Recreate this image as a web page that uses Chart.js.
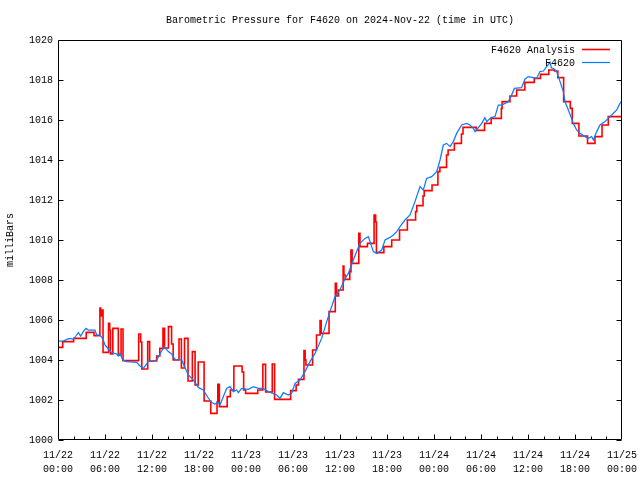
<!DOCTYPE html>
<html>
<head>
<meta charset="utf-8">
<script src="https://cdn.jsdelivr.net/npm/chart.js@4.4.1/dist/chart.umd.min.js"></script>
<style>
  html, body { margin: 0; padding: 0; background: #fff; }
  canvas { display: block; }
</style>
</head>
<body>
<canvas id="baro" width="640" height="480"></canvas>
<script>
// hours since 2024-11-22 00:00 UTC, pressure in mbar
const TITLE = 'Barometric Pressure for F4620 on 2024-Nov-22 (time in UTC)';
const Y_LABEL = 'milliBars';
const SERIES_NAMES = ['F4620 Analysis', 'F4620'];
const X_TICKS = [0, 6, 12, 18, 24, 30, 36, 42, 48, 54, 60, 66, 72];
const Y_TICKS = [1000, 1002, 1004, 1006, 1008, 1010, 1012, 1014, 1016, 1018, 1020];

// analysis: value holds until next change (step line)
const ANALYSIS = [
  [0, 1004.63], [0.6, 1004.92], [2.0, 1005.08], [3.6, 1005.38], [4.6, 1005.22],
  [5.35, 1006.6], [5.45, 1006.2], [5.55, 1006.5], [5.75, 1004.38], [6.45, 1005.83],
  [6.6, 1005.5], [6.7, 1004.3], [7.0, 1005.58], [7.7, 1004.25], [8.05, 1005.55],
  [8.3, 1003.97], [10.3, 1005.3], [10.55, 1004.9], [10.7, 1003.55], [11.45, 1004.92],
  [11.7, 1003.95], [12.6, 1004.2], [13.0, 1004.58], [13.4, 1005.58], [13.6, 1004.6],
  [14.1, 1005.67], [14.5, 1004.8], [14.7, 1004.0], [15.45, 1005.05], [15.75, 1003.6],
  [16.15, 1005.08], [16.6, 1002.95], [17.15, 1004.42], [17.5, 1002.75], [17.9, 1003.9],
  [18.65, 1001.95], [19.5, 1001.33], [20.3, 1001.9], [20.4, 1002.78], [20.6, 1001.67],
  [21.6, 1002.17], [22.0, 1002.5], [22.45, 1003.7], [23.5, 1003.4], [23.7, 1002.5],
  [23.95, 1002.33], [25.5, 1002.5], [26.15, 1003.78], [26.5, 1002.4], [27.35, 1003.8],
  [27.65, 1002.03], [29.7, 1002.47], [30.4, 1002.75], [30.7, 1003.03], [31.4, 1004.47],
  [31.55, 1004.0], [31.65, 1003.75], [32.5, 1004.5], [33.0, 1005.25], [33.45, 1005.97],
  [33.6, 1005.33], [34.6, 1006.42], [35.4, 1007.83], [35.55, 1007.2], [35.8, 1007.5],
  [36.4, 1008.7], [36.5, 1008.25], [36.65, 1008.03], [37.25, 1008.42], [37.4, 1009.5],
  [37.55, 1008.83], [38.4, 1010.33], [38.55, 1009.67], [39.5, 1009.83], [40.35, 1011.25],
  [40.55, 1010.9], [40.65, 1009.37], [41.6, 1009.67], [42.6, 1010.0], [43.6, 1010.5],
  [44.6, 1011.0], [45.65, 1011.42], [45.8, 1011.72], [46.6, 1012.2], [46.75, 1012.47],
  [47.75, 1012.75], [48.5, 1013.42], [48.75, 1013.63], [49.6, 1014.25], [49.8, 1014.5],
  [50.6, 1014.83], [51.5, 1015.3], [51.7, 1015.63], [53.4, 1015.48], [54.45, 1015.83],
  [55.3, 1016.08], [56.6, 1016.58], [56.7, 1016.92], [57.7, 1017.2], [58.55, 1017.5],
  [59.6, 1017.88], [60.8, 1018.08], [61.6, 1018.28], [62.65, 1018.5], [63.4, 1018.45],
  [63.8, 1018.12], [64.55, 1016.92], [65.4, 1016.58], [65.65, 1015.83], [66.5, 1015.2],
  [67.6, 1014.83], [68.55, 1015.17], [69.45, 1015.75], [70.25, 1016.17], [71.9, 1016.17]
];

// station observations
const OBS = [
  [0, 1004.9], [0.13, 1004.95], [0.7, 1004.95], [1.11, 1005.03], [1.53, 1005.08],
  [1.96, 1005.03], [2.38, 1005.25], [2.6, 1005.37], [2.89, 1005.2], [3.23, 1005.42],
  [3.57, 1005.58], [3.87, 1005.5], [4.72, 1005.5], [4.94, 1005.25], [5.36, 1005.25],
  [5.7, 1005.08], [6.0, 1004.75], [6.55, 1004.5], [6.85, 1004.37], [7.49, 1004.3],
  [7.7, 1004.2], [7.91, 1004.33], [8.26, 1004.0], [8.77, 1003.92], [10.04, 1003.88],
  [10.47, 1003.7], [10.89, 1003.58], [11.53, 1003.92], [12.17, 1003.95], [12.6, 1004.0],
  [13.02, 1004.3], [13.53, 1004.67], [14.09, 1004.42], [14.51, 1004.3], [14.94, 1004.03],
  [15.79, 1004.0], [16.21, 1003.63], [16.64, 1003.25], [17.28, 1003.0], [17.91, 1002.63],
  [18.55, 1002.5], [19.19, 1002.1], [19.62, 1001.87], [20.04, 1001.8], [20.47, 1001.87],
  [20.68, 1001.75], [21.11, 1002.17], [21.53, 1002.58], [21.96, 1002.67], [22.38, 1002.42],
  [22.81, 1002.5], [23.02, 1002.37], [23.45, 1002.58], [24.3, 1002.53], [24.94, 1002.67],
  [25.57, 1002.58], [26.21, 1002.58], [26.85, 1002.42], [27.91, 1002.25], [28.34, 1002.08],
  [28.77, 1002.37], [29.4, 1002.25], [29.83, 1002.33], [30.26, 1002.83], [30.89, 1003.0],
  [31.53, 1003.42], [32.17, 1003.92], [32.81, 1004.33], [33.66, 1005.08], [34.3, 1005.92],
  [34.72, 1006.42], [35.36, 1007.17], [35.99, 1007.5], [36.63, 1008.05], [37.06, 1008.33],
  [37.7, 1009.0], [38.13, 1009.42], [38.55, 1009.83], [39.19, 1010.08], [39.62, 1010.17],
  [39.83, 1009.92], [40.26, 1009.42], [40.68, 1009.33], [41.32, 1009.5], [41.75, 1010.0],
  [42.38, 1010.13], [42.81, 1010.25], [43.24, 1010.42], [43.66, 1010.67], [44.3, 1011.0],
  [44.94, 1011.25], [45.57, 1011.92], [46.21, 1012.67], [46.64, 1012.5], [47.06, 1013.08],
  [47.7, 1013.17], [48.34, 1013.42], [48.77, 1014.0], [49.19, 1014.75], [49.62, 1014.83],
  [50.04, 1014.67], [50.47, 1014.92], [50.89, 1015.33], [51.53, 1015.75], [52.17, 1015.83],
  [52.6, 1015.75], [53.02, 1015.58], [53.24, 1015.42], [53.66, 1015.62], [54.09, 1015.83],
  [54.5, 1016.12], [54.73, 1015.92], [55.28, 1016.12], [55.79, 1016.17], [56.21, 1016.75],
  [56.64, 1016.75], [57.06, 1016.83], [57.49, 1016.92], [57.83, 1017.17], [58.26, 1017.58],
  [59.19, 1017.62], [59.62, 1018.05], [60.04, 1018.17], [60.68, 1018.12], [61.11, 1018.08],
  [61.53, 1018.42], [61.96, 1018.45], [62.38, 1018.67], [62.81, 1018.88], [63.0, 1018.6],
  [63.23, 1018.58], [63.66, 1018.42], [64.09, 1017.92], [64.51, 1017.42], [64.72, 1016.92],
  [65.15, 1016.5], [65.57, 1016.08], [65.79, 1015.83], [66.21, 1015.5], [66.64, 1015.33],
  [67.28, 1015.17], [67.7, 1015.08], [68.13, 1015.17], [68.34, 1015.0], [68.77, 1015.42],
  [69.19, 1015.75], [69.83, 1015.92], [70.68, 1016.25], [71.32, 1016.5], [71.74, 1016.83],
  [72.0, 1016.95]
];

const RED = '#ff0000', BLUE = '#0a7cff';
const FONT_FAMILY = '"Liberation Mono", "DejaVu Sans Mono", monospace';
const FONT = '10px ' + FONT_FAMILY;

const toXY = arr => arr.map(([x, y]) => ({ x, y }));

function hourLabel(h) {
  const day = 22 + Math.floor(h / 24);
  const hh = String(h % 24).padStart(2, '0');
  return ['11/' + day, hh + ':00'];
}

// box, inward tick marks, title and gnuplot-style key
const frame = {
  id: 'frame',
  afterDatasetsDraw(chart) {
    const { ctx, chartArea: a, scales: { x, y } } = chart;
    ctx.save();
    ctx.strokeStyle = '#000';
    ctx.lineWidth = 1;
    const L = Math.round(a.left) + 0.5, R = Math.round(a.right) - 0.5;
    const T = Math.round(a.top) + 0.5, B = Math.round(a.bottom) - 0.5;
    ctx.beginPath();
    ctx.rect(L, T, R - L, B - T);
    Y_TICKS.forEach(v => {
      const py = Math.round(y.getPixelForValue(v)) + 0.5;
      ctx.moveTo(L, py); ctx.lineTo(L + 5, py);
      ctx.moveTo(R, py); ctx.lineTo(R - 5, py);
    });
    for (let h = 2; h < 72; h += 2) {
      const px = Math.round(x.getPixelForValue(h)) + 0.5;
      const len = h % 6 === 0 ? 5 : 3;
      ctx.moveTo(px, B); ctx.lineTo(px, B - len);
    }
    ctx.stroke();

    ctx.font = FONT;
    ctx.fillStyle = '#000';
    ctx.textBaseline = 'middle';
    ctx.textAlign = 'center';
    ctx.fillText(TITLE, (a.left + a.right) / 2, 20);

    // key
    ctx.textAlign = 'right';
    const colors = [RED, BLUE];
    SERIES_NAMES.forEach((name, i) => {
      const ty = 50 + i * 13;
      ctx.fillStyle = '#000';
      ctx.fillText(name, 575, ty);
      ctx.strokeStyle = colors[i];
      ctx.lineWidth = i === 0 ? 1.6 : 1.25;
      ctx.beginPath();
      ctx.moveTo(582, Math.round(ty) - 0.5);
      ctx.lineTo(610, Math.round(ty) - 0.5);
      ctx.stroke();
    });
    ctx.restore();
  }
};

new Chart(document.getElementById('baro').getContext('2d'), {
  type: 'line',
  data: {
    datasets: [
      { label: SERIES_NAMES[1], data: toXY(OBS), borderColor: BLUE, borderWidth: 1.25,
        pointRadius: 0, tension: 0, fill: false, order: 0 },
      { label: SERIES_NAMES[0], data: toXY(ANALYSIS), borderColor: RED, borderWidth: 1.6,
        pointRadius: 0, stepped: true, fill: false, order: 1 }
    ]
  },
  options: {
    responsive: false,
    animation: false,
    events: [],
    layout: { padding: { top: 40, right: 18, left: 0, bottom: 0 } },
    plugins: { legend: { display: false }, title: { display: false }, tooltip: { enabled: false } },
    scales: {
      x: {
        type: 'linear', min: 0, max: 72,
        grid: { display: false, drawTicks: false },
        border: { display: false },
        afterBuildTicks: s => { s.ticks = X_TICKS.map(v => ({ value: v })); },
        afterFit: s => { s.height = 40; s.paddingLeft = 0; s.paddingRight = 0; },
        ticks: {
          autoSkip: false, maxRotation: 0, padding: 8, color: '#000',
          font: { family: FONT_FAMILY, size: 10, lineHeight: 1.4 },
          callback: v => hourLabel(v)
        }
      },
      y: {
        min: 1000, max: 1020,
        grid: { display: false, drawTicks: false },
        border: { display: false },
        afterBuildTicks: s => { s.ticks = Y_TICKS.map(v => ({ value: v })); },
        afterFit: s => { s.width = 58; s.paddingTop = 0; s.paddingBottom = 0; },
        ticks: { padding: 5, color: '#000', font: { family: FONT_FAMILY, size: 10 },
                 callback: v => String(v) },
        title: { display: true, text: Y_LABEL, color: '#000',
                 font: { family: FONT_FAMILY, size: 10 }, padding: { top: 4, bottom: 0 } }
      }
    }
  },
  plugins: [frame]
});
</script>
</body>
</html>
